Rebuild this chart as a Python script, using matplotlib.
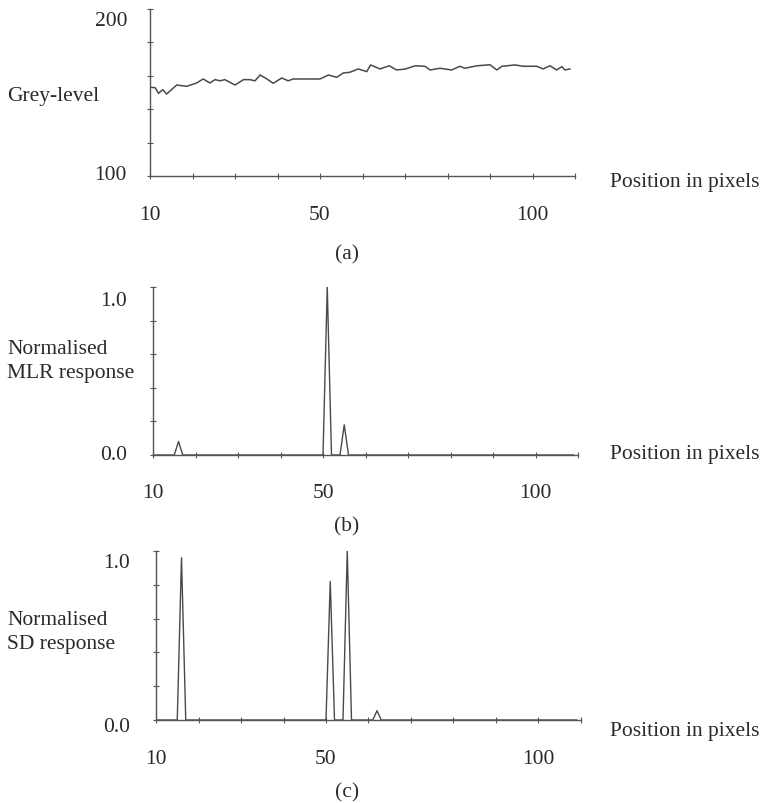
import matplotlib
matplotlib.use("Agg")
import matplotlib.pyplot as plt

plt.rcParams['font.family'] = ['Liberation Serif', 'DejaVu Serif']

# ---- data ----
grey_pos = [10, 11.2, 12, 13, 13.9, 16.3, 18.6, 21, 22.5, 24.1, 25.3, 26.5, 27.6, 30, 32,
            33.5, 34.7, 35.9, 37.5, 39, 41, 42.5, 43.7, 50, 52, 53.9, 55.5, 57, 59, 61,
            61.9, 64.1, 66.3, 68, 70, 72.4, 74.7, 75.9, 78.2, 81, 82.9, 84.1, 86.9, 90,
            91.6, 92.8, 95.9, 97.8, 101, 102.5, 104.1, 105.7, 106.9, 107.6, 108.8]
grey_val = [153.1, 152.9, 149.5, 151.7, 149.1, 154.5, 153.7, 155.7, 158.1, 155.7, 157.7, 157,
            157.7, 154.5, 157.7, 157.7, 157, 160.5, 158.1, 155.5, 158.7, 157, 158.1, 158.1,
            160.5, 159.1, 161.7, 162.1, 164.1, 162.5, 166.5, 164.1, 166, 163.5, 164, 166,
            165.7, 163.5, 164.5, 163.5, 165.7, 164.5, 166, 166.6, 163.5, 165.7, 166.5, 165.7,
            165.7, 164.1, 166, 163.5, 165.5, 163.5, 164.1]

mlr_pos = [10, 15, 16, 17, 50, 51, 52, 54, 55, 56, 109]
mlr_val = [0, 0, 0.08, 0, 0, 1.0, 0, 0, 0.18, 0, 0]

sd_pos = [10, 15, 16, 17, 50, 51, 52, 54, 55, 56, 61, 62, 63, 109]
sd_val = [0, 0, 0.96, 0, 0, 0.82, 0, 0, 1.0, 0, 0, 0.055, 0, 0]

x_ticks = list(range(10, 111, 10))
x_labels = {10: "10", 50: "50", 100: "100"}

W, H = 764, 804
FS = 15.5
TXT = '#2a2a2a'
LINE = '#4a4a4a'
AX = '#555555'

fig = plt.figure(figsize=(W / 100, H / 100), dpi=100)


def make_ax(left, right, top, bottom):
    ax = fig.add_axes([left / W, 1 - bottom / H, (right - left) / W, (bottom - top) / H])
    for s in ['top', 'right']:
        ax.spines[s].set_visible(False)
    for s in ['left', 'bottom']:
        ax.spines[s].set_color(AX)
        ax.spines[s].set_linewidth(1.0)
    ax.tick_params(direction='inout', length=5, width=0.8, colors=AX,
                   labelbottom=False, labelleft=False)
    ax.set_xlim(10, 110)
    ax.set_xticks(x_ticks)
    for v, lab in x_labels.items():
        ax.annotate(lab, xy=(v, 0), xycoords=('data', 'axes fraction'),
                    xytext=(0, -38), textcoords='offset pixels',
                    ha='center', va='center', fontsize=FS, color=TXT)
    return ax


def ylab(ax, value, label, dx, dy):
    ax.annotate(label, xy=(0, value), xycoords=('axes fraction', 'data'),
                xytext=(dx, dy), textcoords='offset pixels',
                ha='right', va='center', fontsize=FS, color=TXT)


# (a)
axa = make_ax(150, 575, 10, 177)
axa.plot(grey_pos, grey_val, color=LINE, lw=1.1)
axa.set_ylim(100, 200)
axa.set_yticks(range(100, 201, 20))
ylab(axa, 200, "200", -23, -11)
ylab(axa, 100, "100", -23, 2)

# (b)
axb = make_ax(153, 578, 288, 456)
axb.plot(mlr_pos, mlr_val, color=LINE, lw=1.0)
axb.set_ylim(0, 1)
axb.set_yticks([0, 0.2, 0.4, 0.6, 0.8, 1.0])
ylab(axb, 1.0, "1.0", -26, -14)
ylab(axb, 0.0, "0.0", -26, 0)

# (c)
axc = make_ax(156, 581, 552, 721)
axc.plot(sd_pos, sd_val, color=LINE, lw=1.0)
axc.set_ylim(0, 1)
axc.set_yticks([0, 0.2, 0.4, 0.6, 0.8, 1.0])
ylab(axc, 1.0, "1.0", -26, -11)
ylab(axc, 0.0, "0.0", -26, -6)


def ftext(x, y, s, **kw):
    fig.text(x / W, 1 - y / H, s, fontsize=FS, color=TXT, **kw)


ftext(7, 97, "Grey-level", ha='left', va='center')
ftext(7, 361.5, "Normalised\nMLR response", ha='left', va='center', linespacing=1.3)
ftext(7, 632.5, "Normalised\nSD response", ha='left', va='center', linespacing=1.3)

ftext(610, 183, "Position in pixels", ha='left', va='center')
ftext(610, 455, "Position in pixels", ha='left', va='center')
ftext(610, 732, "Position in pixels", ha='left', va='center')

ftext(347, 255, "(a)", ha='center', va='center')
ftext(347, 527, "(b)", ha='center', va='center')
ftext(347, 793, "(c)", ha='center', va='center')

fig.savefig("out.png", dpi=100, facecolor='white')
